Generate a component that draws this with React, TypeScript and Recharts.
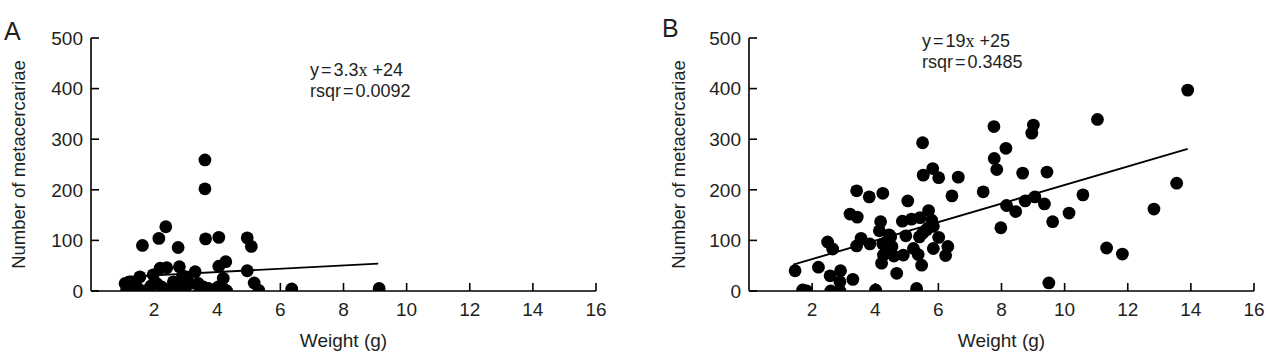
import { Label, Scatter, ScatterChart, XAxis, YAxis } from "recharts"

// panel A: weight (g) vs number of metacercariae
const weightA = [
  3.61, 3.61, 2.37, 2.15, 1.63, 2.76, 3.63, 4.05, 4.95, 5.08,
  4.27, 4.05, 4.95, 4.19, 5.17, 5.32, 6.36, 9.13, 3.3, 2.8,
  2.4, 2.19, 1.97, 1.55, 1.24, 1.08, 1.13, 1.45, 1.71, 2.08,
  2.24, 2.45, 2.61, 2.82, 2.98, 3.03, 3.14, 3.4, 3.56, 3.72,
  3.88, 4.03, 4.25, 1.35, 2.66, 3.45, 4.3, 2.9, 1.9,
]
const countA = [
  259, 202, 127, 104, 90, 86, 103, 106, 105, 88,
  58, 49, 40, 25, 16, 1, 4, 5, 38, 48,
  46, 45, 32, 28, 18, 15, 2, 8, 0, 15,
  8, 2, 18, 8, 0, 28, 15, 15, 8, 5,
  2, 8, 2, 12, 2, 2, 0, 30, 10,
]

// panel B
const weightB = [
  5.5, 8.14, 7.77, 7.85, 8.67, 5.82, 5.52, 6.01, 6.63, 3.41,
  3.81, 4.24, 6.43, 7.42, 8.16, 8.45, 8.75, 9.06, 7.98, 5.03,
  3.2, 3.43, 4.17, 4.86, 5.15, 5.42, 5.69, 5.79, 5.84, 4.13,
  4.49, 4.97, 5.4, 5.63, 6.01, 3.55, 3.83, 3.41, 2.49, 2.65,
  4.24, 4.37, 4.53, 4.26, 4.59, 4.89, 5.21, 5.36, 5.84, 6.3,
  6.23, 4.2, 5.47, 4.68, 2.2, 1.46, 2.57, 2.9, 3.29, 2.88,
  1.7, 1.83, 2.59, 2.88, 4.01, 5.31, 9.01, 8.96, 7.76, 13.9,
  11.04, 9.44, 9.36, 9.62, 10.14, 10.58, 11.33, 11.83, 12.83, 13.55,
  9.5, 4.44, 5.5, 5.66, 4.36,
]
const countB = [
  293, 282, 262, 240, 233, 242, 229, 224, 225, 198,
  186, 193, 188, 196, 169, 157, 178, 186, 125, 178,
  152, 146, 137, 138, 142, 145, 159, 140, 128, 119,
  107, 109, 107, 121, 106, 104, 93, 89, 97, 83,
  93, 81, 88, 71, 69, 71, 84, 72, 84, 88,
  70, 55, 51, 35, 47, 40, 30, 40, 23, 18,
  2, 0, 0, 0, 2, 5, 328, 312, 325, 397,
  339, 235, 172, 137, 154, 190, 85, 73, 162, 213,
  16, 111, 114, 124, 97,
]

// fitted line end points
const fitA = [
  { weight: 1.1, count: 28 },
  { weight: 9.1, count: 54 },
]
const fitB = [
  { weight: 1.4, count: 52 },
  { weight: 13.9, count: 281 },
]

const xTicks = [2, 4, 6, 8, 10, 12, 14, 16]
const yTicks = [0, 100, 200, 300, 400, 500]

const toPoints = (w: number[], c: number[]) => w.map((weight, i) => ({ weight, count: c[i] }))

const FONT = '"Liberation Sans", Arial, sans-serif'
const INK = "#231f20"

const dot = (props: any) => <circle cx={props.cx} cy={props.cy} r={6.4} fill="#000" />
const noDot = () => <g />

const yTitle = (cx: number) => (props: any) => {
  const vb = props.viewBox
  const cy = vb.y + vb.height / 2
  return (
    <text
      x={cx}
      y={cy}
      transform={`rotate(-90, ${cx}, ${cy})`}
      textAnchor="middle"
      dominantBaseline="central"
      fontSize={18.5}
      fontFamily={FONT}
      fill={INK}
    >
      Number of metacercariae
    </text>
  )
}

const xTitle = (props: any) => {
  const vb = props.viewBox
  return (
    <text x={vb.x + vb.width / 2} y={347} textAnchor="middle" fontSize={19} fontFamily={FONT} fill={INK}>
      Weight (g)
    </text>
  )
}

function Panel({ points, fit, yAxisWidth, rightGap, labelX }: any) {
  return (
    <ScatterChart width={633} height={359} margin={{ top: 38, right: rightGap, bottom: 0, left: 0 }}>
      <XAxis
        dataKey="weight"
        type="number"
        domain={[0, 16]}
        ticks={xTicks}
        interval={0}
        allowDataOverflow
        height={68}
        stroke="#000"
        strokeWidth={1.6}
        tickSize={-8}
        tickMargin={20}
        tick={{ fontSize: 19, fill: INK, fontFamily: FONT }}
      >
        <Label content={xTitle} />
      </XAxis>
      <YAxis
        dataKey="count"
        type="number"
        domain={[0, 500]}
        ticks={yTicks}
        interval={0}
        allowDataOverflow
        width={yAxisWidth}
        stroke="#000"
        strokeWidth={1.6}
        tickSize={-8}
        tickMargin={16}
        tick={{ fontSize: 19, fill: INK, fontFamily: FONT }}
      >
        <Label content={yTitle(labelX)} />
      </YAxis>
      <Scatter data={points} shape={dot} isAnimationActive={false} />
      <Scatter data={fit} shape={noDot} line={{ stroke: "#000", strokeWidth: 1.9 }} isAnimationActive={false} />
    </ScatterChart>
  )
}

function Note({ x, y, slope, icpt, rsq }: any) {
  return (
    <g fontFamily={FONT} fontSize={18} fill={INK}>
      <text x={x} y={y}>
        y<tspan dx={2}>=</tspan>
        <tspan dx={2}>{slope}</tspan>
        <tspan fontFamily='"Liberation Serif", serif'>x</tspan>
        <tspan> +{icpt}</tspan>
      </text>
      <text x={x} y={y + 21}>
        rsqr<tspan dx={2}>=</tspan>
        <tspan dx={2}>{rsq}</tspan>
      </text>
    </g>
  )
}

export default function App() {
  return (
    <div style={{ position: "absolute", left: 0, top: 0, width: 1266, height: 359, background: "#fff" }}>
      <div style={{ position: "absolute", left: 0, top: 0 }}>
        <Panel points={toPoints(weightA, countA)} fit={fitA} yAxisWidth={91} rightGap={37} labelX={18} />
      </div>
      <div style={{ position: "absolute", left: 633, top: 0 }}>
        <Panel points={toPoints(weightB, countB)} fit={fitB} yAxisWidth={116} rightGap={12} labelX={45} />
      </div>
      <svg width={1266} height={359} style={{ position: "absolute", left: 0, top: 0, pointerEvents: "none" }}>
        <text x={4} y={40} fontSize={25} fontFamily={FONT} fill={INK}>A</text>
        <text x={662} y={37} fontSize={25} fontFamily={FONT} fill={INK}>B</text>
        <Note x={310} y={76} slope="3.3" icpt="24" rsq="0.0092" />
        <Note x={922} y={47} slope="19" icpt="25" rsq="0.3485" />
      </svg>
    </div>
  )
}
